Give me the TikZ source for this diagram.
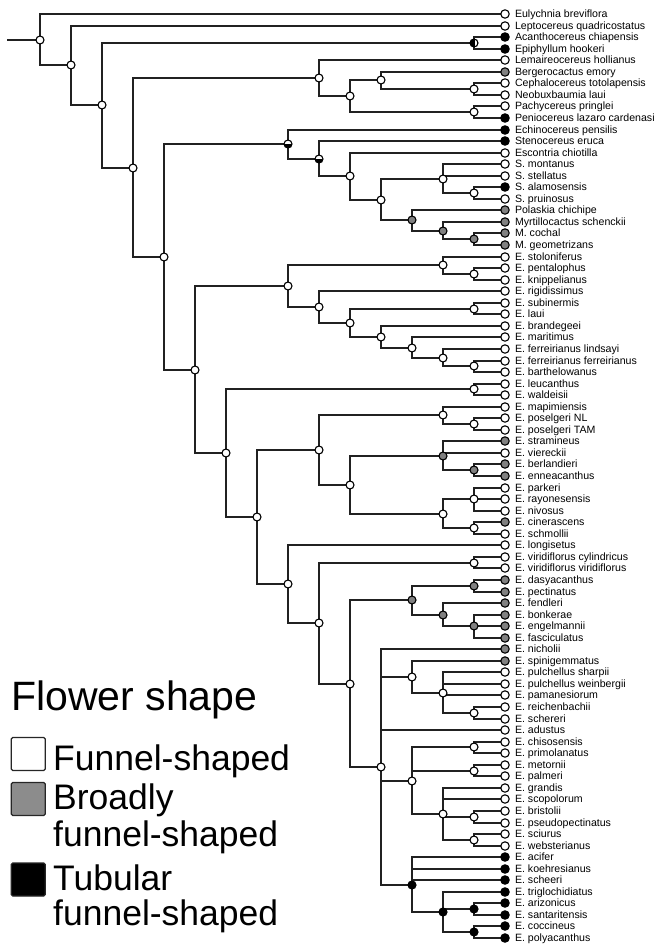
\documentclass[tikz,border=0pt]{standalone}
\usepackage{fontspec}
\setmainfont{Liberation Sans}
\usetikzlibrary{backgrounds}
\definecolor{cW}{gray}{1}
\definecolor{cG}{gray}{0.5}
\definecolor{cB}{gray}{0}
\definecolor{ln}{gray}{0.13}
\definecolor{legG}{gray}{0.55}
\begin{document}
\begin{tikzpicture}[x=1pt,y=-1pt,
  mk/.style={circle,draw=black,line width=1.1pt,inner sep=0pt,minimum size=8.4pt},
  inW/.style={mk,fill=white,minimum size=8pt},
  inG/.style={mk,fill=cG,minimum size=8pt},
  inB/.style={mk,fill=black,minimum size=8pt},
  half/.style={mk,minimum size=8pt,fill=white,path picture={\fill[black] (path picture bounding box.west) rectangle (path picture bounding box.south east);}},
  mostb/.style={mk,minimum size=8pt,fill=black,path picture={\fill[white] ([xshift=1.4pt]path picture bounding box.north) rectangle ([xshift=-1pt]path picture bounding box.south east);}},
  edge/.style={draw=ln,line width=2pt},
  lab/.style={anchor=base west,inner sep=0pt,font=\fontsize{10.6}{12}\selectfont},
  legt/.style={anchor=base west,inner sep=0pt,font=\fontsize{35.5}{40}\selectfont},
  legbox/.style={rectangle,draw=black!85,line width=1.3pt,rounded corners=1.5pt,minimum width=34pt,minimum height=33pt,inner sep=0pt}
]
\useasboundingbox (0,0) rectangle (655,945);

% tips
\foreach \i/\c/\t in {1/W/Eulychnia breviflora, 2/W/Leptocereus quadricostatus, 3/B/Acanthocereus chiapensis, 4/B/Epiphyllum hookeri, 5/W/Lemaireocereus hollianus, 6/G/Bergerocactus emory, 7/W/Cephalocereus totolapensis, 8/W/Neobuxbaumia laui, 9/W/Pachycereus pringlei, 10/B/Peniocereus lazaro cardenasi, 11/B/Echinocereus pensilis, 12/B/Stenocereus eruca, 13/W/Escontria chiotilla, 14/W/S. montanus, 15/W/S. stellatus, 16/B/S. alamosensis, 17/W/S. pruinosus, 18/G/Polaskia chichipe, 19/G/Myrtillocactus schenckii, 20/G/M. cochal, 21/G/M. geometrizans, 22/W/E. stoloniferus, 23/W/E. pentalophus, 24/W/E. knippelianus, 25/W/E. rigidissimus, 26/W/E. subinermis, 27/W/E. laui, 28/W/E. brandegeei, 29/W/E. maritimus, 30/W/E. ferreirianus lindsayi, 31/W/E. ferreirianus ferreirianus, 32/W/E. barthelowanus, 33/W/E. leucanthus, 34/W/E. waldeisii, 35/W/E. mapimiensis, 36/W/E. poselgeri NL, 37/W/E. poselgeri TAM, 38/G/E. stramineus, 39/W/E. viereckii, 40/G/E. berlandieri, 41/G/E. enneacanthus, 42/W/E. parkeri, 43/W/E. rayonesensis, 44/W/E. nivosus, 45/G/E. cinerascens, 46/W/E. schmollii, 47/W/E. longisetus, 48/W/E. viridiflorus cylindricus, 49/W/E. viridiflorus viridiflorus, 50/G/E. dasyacanthus, 51/G/E. pectinatus, 52/G/E. fendleri, 53/G/E. bonkerae, 54/G/E. engelmannii, 55/G/E. fasciculatus, 56/G/E. nicholii, 57/G/E. spinigemmatus, 58/W/E. pulchellus sharpii, 59/W/E. pulchellus weinbergii, 60/W/E. pamanesiorum, 61/W/E. reichenbachii, 62/W/E. schereri, 63/W/E. adustus, 64/W/E. chisosensis, 65/W/E. primolanatus, 66/W/E. metornii, 67/W/E. palmeri, 68/W/E. grandis, 69/W/E. scopolorum, 70/W/E. bristolii, 71/W/E. pseudopectinatus, 72/W/E. sciurus, 73/W/E. websterianus, 74/B/E. acifer, 75/B/E. koehresianus, 76/B/E. scheeri, 77/B/E. triglochidiatus, 78/B/E. arizonicus, 79/B/E. santaritensis, 80/B/E. coccineus, 81/B/E. polyacanthus}{
  \pgfmathsetmacro{\yy}{round(14+(\i-1)*11.55)}
  \node[mk,fill=c\c] (t\i) at (505,\yy) {};
  \node[lab] (l\i) at (514.8,\yy+3.8) {\t};
}

% internal nodes
\coordinate (rs) at (7,40);
\node[inW] (root) at (40,40) {};
\node[inW] (n2x81) at (71,65) {};
\node[inW] (n3x81) at (102,105) {};
\node[mostb] (n3x4) at (474,43) {};
\node[inW] (n5x81) at (133,168) {};
\node[inW] (n5x10) at (319,78) {};
\node[inW] (n6x10) at (350,96) {};
\node[inW] (n6x8) at (381,80) {};
\node[inW] (n7x8) at (474,89) {};
\node[inW] (n9x10) at (474,112) {};
\node[inW] (n11x81) at (164,257) {};
\node[half] (n11x21) at (288,144) {};
\node[half] (n12x21) at (319,159) {};
\node[inW] (n13x21) at (350,176) {};
\node[inW] (n14x21) at (381,200) {};
\node[inW] (n14x17) at (443,179) {};
\node[inW] (n16x17) at (474,193) {};
\node[inG] (n18x21) at (412,220) {};
\node[inG] (n19x21) at (443,231) {};
\node[inG] (n20x21) at (474,239) {};
\node[inW] (n22x81) at (195,370) {};
\node[inW] (n22x32) at (288,286) {};
\node[inW] (n22x24) at (443,265) {};
\node[inW] (n23x24) at (474,274) {};
\node[inW] (n25x32) at (319,307) {};
\node[inW] (n26x32) at (350,323) {};
\node[inW] (n26x27) at (474,309) {};
\node[inW] (n28x32) at (381,337) {};
\node[inW] (n29x32) at (412,348) {};
\node[inW] (n30x32) at (443,358) {};
\node[inW] (n31x32) at (474,366) {};
\node[inW] (n33x81) at (226,453) {};
\node[inW] (n33x34) at (474,389) {};
\node[inW] (n35x81) at (257,517) {};
\node[inW] (n35x46) at (319,450) {};
\node[inW] (n35x37) at (443,415) {};
\node[inW] (n36x37) at (474,424) {};
\node[inW] (n38x46) at (350,485) {};
\node[inG] (n38x41) at (443,456) {};
\node[inG] (n40x41) at (474,470) {};
\node[inW] (n42x46) at (443,514) {};
\node[inW] (n42x44) at (474,499) {};
\node[inW] (n45x46) at (474,528) {};
\node[inW] (n47x81) at (288,584) {};
\node[inW] (n48x81) at (319,623) {};
\node[inW] (n48x49) at (474,563) {};
\node[inW] (n50x81) at (350,684) {};
\node[inG] (n50x55) at (412,600) {};
\node[inG] (n50x51) at (474,586) {};
\node[inG] (n52x55) at (443,615) {};
\node[inG] (n53x55) at (474,626) {};
\node[inW] (n56x81) at (381,767) {};
\node[inW] (n57x62) at (412,677) {};
\node[inW] (n58x62) at (443,693) {};
\node[inW] (n61x62) at (474,713) {};
\node[inW] (n64x73) at (412,781) {};
\node[inW] (n64x65) at (474,747) {};
\node[inW] (n66x67) at (474,771) {};
\node[inW] (n68x73) at (443,814) {};
\node[inW] (n70x71) at (474,817) {};
\node[inW] (n72x73) at (474,840) {};
\node[inB] (n74x81) at (412,885) {};
\node[inB] (n77x81) at (443,912) {};
\node[inB] (n78x79) at (474,909) {};
\node[inB] (n80x81) at (474,932) {};

\begin{scope}[on background layer]
\draw[edge] (rs) -- (root.center);
\foreach \p/\q in {root/t1, root/n2x81, n2x81/t2, n2x81/n3x81, n3x81/n3x4, n3x81/n5x81, n3x4/t3, n3x4/t4, n5x81/n5x10, n5x81/n11x81, n5x10/t5, n5x10/n6x10, n6x10/n6x8, n6x10/n9x10, n6x8/t6, n6x8/n7x8, n7x8/t7, n7x8/t8, n9x10/t9, n9x10/t10, n11x81/n11x21, n11x81/n22x81, n11x21/t11, n11x21/n12x21, n12x21/t12, n12x21/n13x21, n13x21/t13, n13x21/n14x21, n14x21/n14x17, n14x21/n18x21, n14x17/t14, n14x17/t15, n14x17/n16x17, n16x17/t16, n16x17/t17, n18x21/t18, n18x21/n19x21, n19x21/t19, n19x21/n20x21, n20x21/t20, n20x21/t21, n22x81/n22x32, n22x81/n33x81, n22x32/n22x24, n22x32/n25x32, n22x24/t22, n22x24/n23x24, n23x24/t23, n23x24/t24, n25x32/t25, n25x32/n26x32, n26x32/n26x27, n26x32/n28x32, n26x27/t26, n26x27/t27, n28x32/t28, n28x32/n29x32, n29x32/t29, n29x32/n30x32, n30x32/t30, n30x32/n31x32, n31x32/t31, n31x32/t32, n33x81/n33x34, n33x81/n35x81, n33x34/t33, n33x34/t34, n35x81/n35x46, n35x81/n47x81, n35x46/n35x37, n35x46/n38x46, n35x37/t35, n35x37/n36x37, n36x37/t36, n36x37/t37, n38x46/n38x41, n38x46/n42x46, n38x41/t38, n38x41/t39, n38x41/n40x41, n40x41/t40, n40x41/t41, n42x46/n42x44, n42x46/n45x46, n42x44/t42, n42x44/t43, n42x44/t44, n45x46/t45, n45x46/t46, n47x81/t47, n47x81/n48x81, n48x81/n48x49, n48x81/n50x81, n48x49/t48, n48x49/t49, n50x81/n50x55, n50x81/n56x81, n50x55/n50x51, n50x55/n52x55, n50x51/t50, n50x51/t51, n52x55/t52, n52x55/n53x55, n53x55/t53, n53x55/t54, n53x55/t55, n56x81/t56, n56x81/n57x62, n56x81/t63, n56x81/n64x73, n56x81/n74x81, n57x62/t57, n57x62/n58x62, n58x62/t58, n58x62/t59, n58x62/t60, n58x62/n61x62, n61x62/t61, n61x62/t62, n64x73/n64x65, n64x73/n66x67, n64x73/n68x73, n64x65/t64, n64x65/t65, n66x67/t66, n66x67/t67, n68x73/t68, n68x73/t69, n68x73/n70x71, n68x73/n72x73, n70x71/t70, n70x71/t71, n72x73/t72, n72x73/t73, n74x81/t74, n74x81/t75, n74x81/t76, n74x81/n77x81, n77x81/t77, n77x81/n78x79, n77x81/n80x81, n78x79/t78, n78x79/t79, n80x81/t80, n80x81/t81}
  \draw[edge] (\p.center) |- (\q.center);
\end{scope}

% legend
\node[anchor=base west,inner sep=0pt,font=\fontsize{41}{48}\selectfont] (title) at (11,710) {Flower shape};
\node[legbox,fill=white] (sqW) at (28.3,754) {};
\node[legbox,fill=legG] (sqG) at (28.3,799) {};
\node[legbox,fill=black] (sqB) at (28.3,879.5) {};
\node[legt] (tW) at (53,770) {Funnel-shaped};
\node[legt] (tG1) at (53,809) {Broadly};
\node[legt] (tG2) at (53,846.7) {funnel-shaped};
\node[legt] (tB1) at (53,890) {Tubular};
\node[legt] (tB2) at (53,925) {funnel-shaped};
\end{tikzpicture}
\end{document}
